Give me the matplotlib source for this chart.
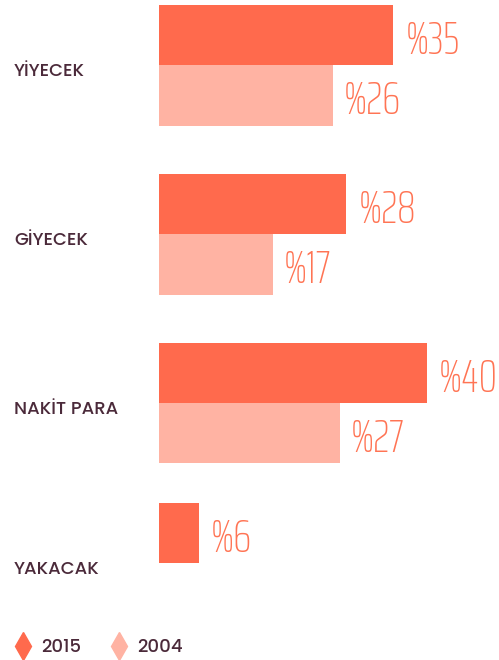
import matplotlib
matplotlib.use('Agg')
import matplotlib.pyplot as plt
import matplotlib.transforms as mtransforms
from matplotlib.lines import Line2D

# Veriler
kategoriler = ['YİYECEK', 'GİYECEK', 'NAKİT PARA', 'YAKACAK']
yil_2015 = [35, 28, 40, 6]
yil_2004 = [26, 17, 27, None]
seriler = ['2015', '2004']

renk_2015 = '#FF6A4D'
renk_2004 = '#FFB3A3'
renk_deger = '#FF7454'
renk_yazi = '#4B2A3A'

deger_font = dict(family=['Saira ExtraCondensed', 'DejaVu Sans'], weight=250,
                  fontsize=33, color=renk_deger)
etiket_font = ['Poppins', 'Lato', 'DejaVu Sans']

fig = plt.figure(figsize=(4.99, 6.60), dpi=100)
ax = fig.add_axes([159 / 499, 0, 340 / 499, 1])

# grup konumları (son grup biraz yukarıda)
konum = [0, 1, 2, 2.947]
h = 0.358
for y, a, b in zip(konum, yil_2015, yil_2004):
    ax.barh(y - h / 2, a, height=h, color=renk_2015)
    ax.text(a + 1.8, y - h / 2 + 0.112, f'%{a}', va='baseline', ha='left', **deger_font)
    if b is not None:
        ax.barh(y + h / 2, b, height=h, color=renk_2004)
        ax.text(b + 1.6, y + h / 2 + 0.112, f'%{b}', va='baseline', ha='left', **deger_font)

ax.set_xlim(0, 50.8)
ax.set_ylim(3.521, -0.385)
ax.axis('off')

tr = mtransforms.blended_transform_factory(fig.transFigure, ax.transData)
for y, k in zip(konum, kategoriler):
    ax.text(14 / 499, y + 0.065, k, va='baseline', ha='left', transform=tr,
            fontsize=13, weight=500, color=renk_yazi, family=etiket_font)

# Lejant
handles = [Line2D([], [], marker='d', color=c, linestyle='none', markersize=14)
           for c in [renk_2015, renk_2004]]
leg = fig.legend(handles, seriler, loc='center left', bbox_to_anchor=(14 / 499, 12 / 660),
                 ncol=2, frameon=False, handlelength=1.0, borderpad=0, borderaxespad=0,
                 handletextpad=0.5, columnspacing=1.6,
                 prop={'family': etiket_font, 'size': 13, 'weight': 500})
for t in leg.get_texts():
    t.set_color(renk_yazi)

fig.savefig('out.png', dpi=100)
